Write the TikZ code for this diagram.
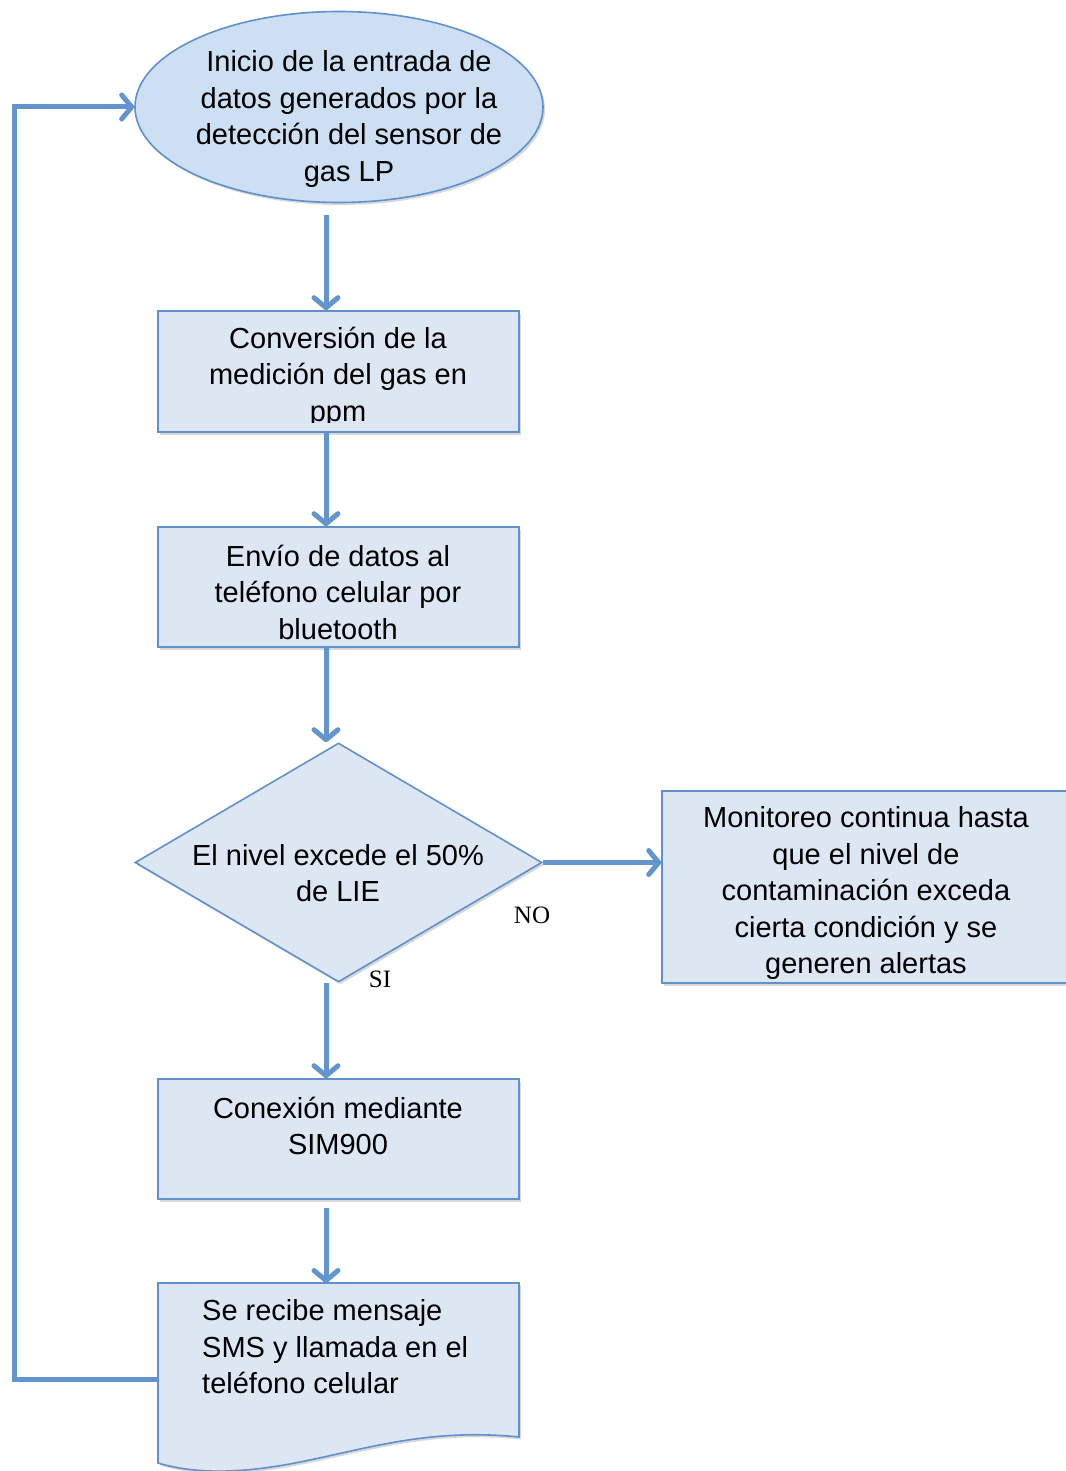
\documentclass[tikz,border=0pt]{standalone}
\usepackage{fontspec}
\setmainfont{Liberation Sans}
\newfontfamily\lblfont{Liberation Serif}
\usetikzlibrary{arrows.meta,shapes.geometric,shadows}
\definecolor{lnblue}{RGB}{98,149,206}
\definecolor{bdblue}{RGB}{96,145,205}
\definecolor{boxfill}{RGB}{221,231,244}
\definecolor{ellfill}{RGB}{204,223,243}
\tikzset{
 shp/.style={draw=bdblue, line width=1.6pt, fill=boxfill, drop shadow={shadow xshift=2pt,shadow yshift=-2.5pt,opacity=0.3}},
 procbox/.style={shp, rectangle, minimum width=361pt, minimum height=121pt, inner sep=0pt},
 txt/.style={font=\fontsize{29}{36.5}\selectfont, align=center, inner sep=0pt},
 arr/.style={draw=lnblue, line width=5pt, -{Straight Barb[length=10pt,width=24pt,round]}},
 lbl/.style={font=\lblfont\fontsize{25}{28}\selectfont, inner sep=0pt}
}
\begin{document}
\begin{tikzpicture}[x=1pt,y=-1pt]
\useasboundingbox (0,0) rectangle (1065,1471);
\fill[white] (0,0) rectangle (1065,1471);
\coordinate (col) at (326,0);
% shapes
\node[shp, ellipse, fill=ellfill, minimum width=408pt, minimum height=191pt, inner sep=0pt] (ini) at (339,107) {};
\node[txt] (iniT) at (349,119) {Inicio de la entrada de\\datos generados por la\\detección del sensor de\\gas LP};
\node[procbox] (box1) at (338.5,371.5) {};
\begin{scope}
\clip (158,311) rectangle (519,422);
\node[txt] (box1T) at (338,377) {Conversión de la\\medición del gas en\\ppm};
\end{scope}
\node[procbox, minimum height=120pt] (box2) at (338.5,587) {};
\node[txt] (box2T) at (338,592) {Envío de datos al\\teléfono celular por\\bluetooth};
\node[shp, diamond, aspect=1.7, minimum width=407pt, minimum height=239pt, inner sep=0pt] (dia) at (338.5,862.5) {};
\node[txt] (diaT) at (338,873) {El nivel excede el 50\%\\de LIE};
\node[shp, rectangle, minimum width=418pt, minimum height=192pt, inner sep=0pt] (mon) at (871,887) {};
\node[txt] (monT) at (866,893) {Monitoreo continua hasta\\que el nivel de\\contaminación exceda\\cierta condición y se\\generen alertas};
\node[procbox, minimum height=120pt] (sim) at (338.5,1139) {};
\node[txt] (simT) at (338,1126) {Conexión mediante\\SIM900};
\path[shp] (158,1283) -- (519,1283) -- (519,1437)
  .. controls (430,1428) and (370,1448) .. (300,1462)
  .. controls (240,1474) and (195,1474) .. (158,1463) -- cycle;
\coordinate (docN) at (338.5,1283);
\coordinate (docW) at (158,1379);
\node[txt, align=left, anchor=west] (docT) at (202,1347) {Se recibe mensaje\\SMS y llamada en el\\teléfono celular};
% labels
\node[lbl] (no) at (532,915) {NO};
\node[lbl] (si) at (380,979) {SI};
% connectors
\draw[arr, shorten <=12pt] (ini.south -| col) -- (box1.north -| col);
\draw[arr] (box1.south -| col) -- (box2.north -| col);
\draw[arr] (box2.south -| col) -- (dia.north -| col);
\draw[arr] (dia.south -| col) -- (sim.north -| col);
\draw[arr, shorten <=8pt] (sim.south -| col) -- (docN -| col);
\draw[arr] (dia.east) -- (dia.east -| mon.west);
\draw[arr] (docW) -- (14,1379) -- (14,107) -- (ini.west);
\end{tikzpicture}
\end{document}
